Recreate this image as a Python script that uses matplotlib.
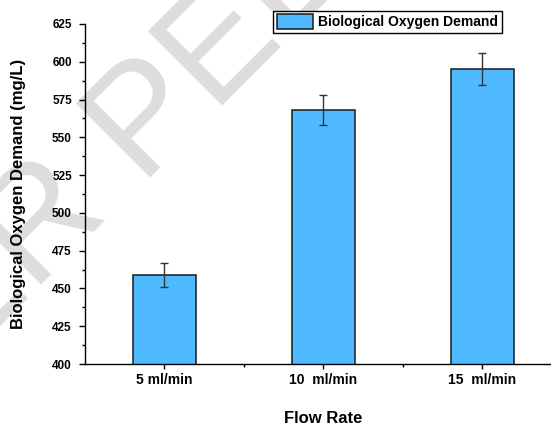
import matplotlib
matplotlib.use("Agg")
import matplotlib.pyplot as plt
from matplotlib.ticker import MultipleLocator, FixedLocator

plt.rcParams['font.family'] = ['Liberation Sans', 'DejaVu Sans']

# data
flow_rates = ["5 ml/min", "10  ml/min", "15  ml/min"]
bod_values = [459, 568, 595]
bod_errors = [8, 10, 10.5]

fig = plt.figure(figsize=(5.51, 4.28), dpi=100)
fig.patch.set_facecolor("white")

# faint watermark behind everything (split at the "P" so it lands where the reference has it)
wm = dict(fontsize=110, color="#dddddd", rotation=45,
          rotation_mode="anchor", va="baseline", zorder=-1)
fig.text(0.257, 0.566, "PEER REVIEW", ha="left", **wm)
fig.text(0.257, 0.566, "UNDER ", ha="right", **wm)

ax = fig.add_axes([0.154, 0.1495, 0.866, 0.7945])
ax.patch.set_alpha(0)

x = list(range(1, len(flow_rates) + 1))
ax.bar(x, bod_values, width=0.4, color="#4FBAFF", edgecolor="#1a1a1a",
       linewidth=1.1, label="Biological Oxygen Demand", zorder=2)
ax.errorbar(x, bod_values, yerr=bod_errors, fmt="none", ecolor="#333333",
            elinewidth=1, capsize=2.6, capthick=1, zorder=3)

ax.set_xlim(0.5, 3.5)
ax.set_ylim(400, 625)

ax.spines["top"].set_visible(False)
ax.spines["right"].set_visible(False)
ax.spines["left"].set_linewidth(1)
ax.spines["bottom"].set_linewidth(1)

ax.set_xticks(x)
ax.set_xticklabels(flow_rates, fontsize=10, fontweight="bold")
ax.xaxis.set_minor_locator(FixedLocator([1.5, 2.5]))
ax.yaxis.set_major_locator(MultipleLocator(25))
ax.yaxis.set_minor_locator(MultipleLocator(12.5))
for lab in ax.get_yticklabels():
    lab.set_fontweight("bold")
    lab.set_fontsize(8.5)

ax.tick_params(axis="y", which="major", length=4.3, width=1, pad=5)
ax.tick_params(axis="y", which="minor", length=2.5, width=1)
ax.tick_params(axis="x", which="major", length=3.5, width=1, pad=3)
ax.tick_params(axis="x", which="minor", length=2.5, width=1)

ax.set_xlabel("Flow Rate", fontsize=12, fontweight="bold", labelpad=17)
ax.set_ylabel("Biological Oxygen Demand (mg/L)", fontsize=12, fontweight="bold", labelpad=19)

leg = ax.legend(loc="upper right", bbox_to_anchor=(0.911, 0.975),
                bbox_transform=fig.transFigure, fancybox=False, framealpha=1,
                edgecolor="black", prop={"weight": "bold", "size": 10},
                handlelength=2.6, handleheight=1.3, borderpad=0.25,
                handletextpad=0.4, borderaxespad=0)
leg.get_frame().set_linewidth(1)

fig.savefig("out.png", dpi=100)
